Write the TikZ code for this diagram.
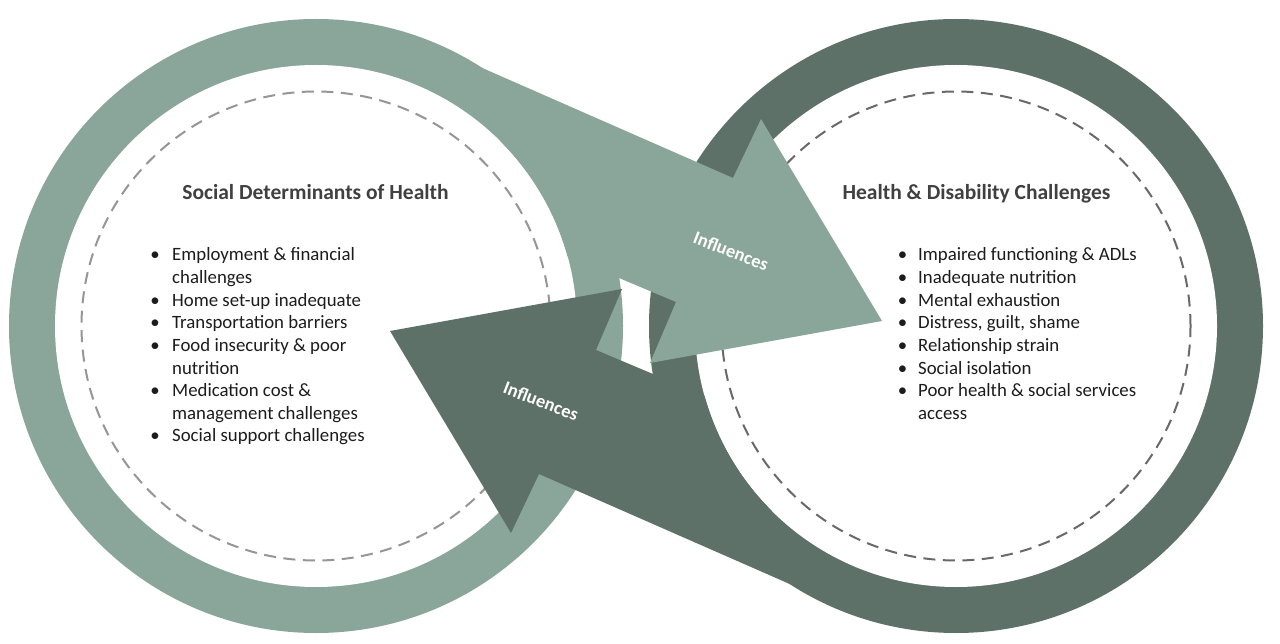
\documentclass[tikz,border=0pt]{standalone}
\usepackage{fontspec}
\setmainfont{Carlito}
\definecolor{lightg}{RGB}{138,165,154}
\definecolor{darkg}{RGB}{93,113,105}
\definecolor{dashL}{RGB}{150,150,150}
\definecolor{dashR}{RGB}{105,105,105}
\definecolor{titlec}{RGB}{64,64,64}
\definecolor{bodyc}{RGB}{28,28,28}
\begin{document}
\begin{tikzpicture}[x=1pt,y=-1pt,
  titletext/.style={font=\fontsize{21.5}{26}\selectfont\bfseries, text=titlec, inner sep=0pt, anchor=base},
  bodytext/.style={font=\fontsize{18.8}{22.6}\selectfont, text=bodyc, inner sep=0pt, anchor=base west},
  bullettext/.style={font=\fontsize{18.8}{22.6}\selectfont, text=bodyc, inner sep=0pt, anchor=base},
  infltext/.style={font=\fontsize{18.5}{22}\selectfont\bfseries, text=white, inner sep=0pt},
  dashring/.style={line width=2pt, dash pattern=on 12pt off 7.5pt},
]
\useasboundingbox (0,0) rectangle (1280,644);
\fill[white] (0,0) rectangle (1280,644);

\coordinate (CL) at (316,326);
\coordinate (CR) at (956,326);

% outer rings
\fill[lightg] (CL) circle[radius=307pt];
\fill[darkg] (CR) circle[radius=307pt];

% inner white discs
\fill[white] (CL) circle[radius=261pt];
\fill[white] (CR) circle[radius=261pt];

% dashed circles
\draw[dashring, dashL] (CL) circle[radius=234.5pt];
\draw[dashring, dashR] (CR) circle[radius=234.5pt];

% arrows (shaft + head in one piece); the dark one is the light one turned half round
\fill[lightg] (480,67) -- (733,178) -- (761,119) -- (882,321) -- (650,363) -- (676,302)
  -- (567.5,256.3) arc[start angle=-15.5, end angle=-45, radius=261] -- cycle;
\begin{scope}[rotate around={180:(636,326)}]
  \fill[darkg] (480,67) -- (733,178) -- (761,119) -- (882,321) -- (650,363) -- (676,302)
    -- (567.5,256.3) arc[start angle=-15.5, end angle=-45, radius=261] -- cycle;
\end{scope}

% labels on arrows
\node[infltext, rotate=-21] (inflA) at (731,251) {Influences};
\node[infltext, rotate=-21] (inflB) at (541,401) {Influences};

% titles
\node[titletext] (titleL) at (315.5,200) {Social Determinants of Health};
\node[titletext] (titleR) at (976.5,200) {Health \& Disability Challenges};

% left list
\node[bullettext] (bl1) at (155,261) {\textbullet};
\node[bodytext] (l1) at (172,261) {Employment \& financial};
\node[bodytext] (l1b) at (172,283.6) {challenges};
\node[bullettext] (bl2) at (155,306.2) {\textbullet};
\node[bodytext] (l2) at (172,306.2) {Home set-up inadequate};
\node[bullettext] (bl3) at (155,328.8) {\textbullet};
\node[bodytext] (l3) at (172,328.8) {Transportation barriers};
\node[bullettext] (bl4) at (155,351.4) {\textbullet};
\node[bodytext] (l4) at (172,351.4) {Food insecurity \& poor};
\node[bodytext] (l4b) at (172,374) {nutrition};
\node[bullettext] (bl5) at (155,396.6) {\textbullet};
\node[bodytext] (l5) at (172,396.6) {Medication cost \&};
\node[bodytext] (l5b) at (172,419.2) {management challenges};
\node[bullettext] (bl6) at (155,441.8) {\textbullet};
\node[bodytext] (l6) at (172,441.8) {Social support challenges};

% right list
\node[bullettext] (br1) at (902.5,261) {\textbullet};
\node[bodytext] (r1) at (918,261) {Impaired functioning \& ADLs};
\node[bullettext] (br2) at (902.5,283.6) {\textbullet};
\node[bodytext] (r2) at (918,283.6) {Inadequate nutrition};
\node[bullettext] (br3) at (902.5,306.2) {\textbullet};
\node[bodytext] (r3) at (918,306.2) {Mental exhaustion};
\node[bullettext] (br4) at (902.5,328.8) {\textbullet};
\node[bodytext] (r4) at (918,328.8) {Distress, guilt, shame};
\node[bullettext] (br5) at (902.5,351.4) {\textbullet};
\node[bodytext] (r5) at (918,351.4) {Relationship strain};
\node[bullettext] (br6) at (902.5,374) {\textbullet};
\node[bodytext] (r6) at (918,374) {Social isolation};
\node[bullettext] (br7) at (902.5,396.6) {\textbullet};
\node[bodytext] (r7) at (918,396.6) {Poor health \& social services};
\node[bodytext] (r7b) at (918,419.2) {access};
\end{tikzpicture}
\end{document}
